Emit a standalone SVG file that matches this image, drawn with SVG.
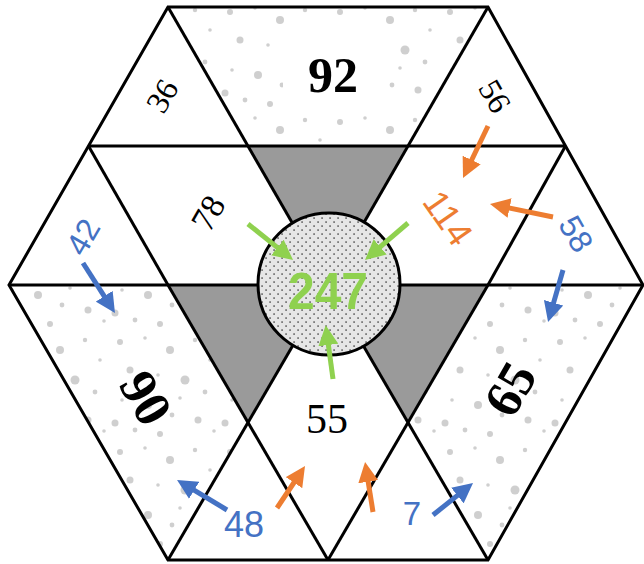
<svg xmlns="http://www.w3.org/2000/svg" width="644" height="564" viewBox="0 0 644 564">
<defs>
<style>
.grid{stroke:#000;stroke-width:3;fill:none;stroke-linejoin:miter;stroke-linecap:butt}
.speck{fill:url(#speck)}
.dark{fill:#9a9a9a}
.blk{font-family:"Liberation Serif","DejaVu Serif",serif;fill:#000}
.hand{font-family:"Liberation Sans","DejaVu Sans",sans-serif}
.arr{stroke-width:5;fill:none}
.g{stroke:#8fd14f}
.o{stroke:#ed7d31}
.b{stroke:#4472c4}
</style>
<pattern id="speck" width="110" height="110" patternUnits="userSpaceOnUse">
<rect width="110" height="110" fill="#fff"/>
<g fill="#cfcfcf">
<circle cx="10" cy="12" r="3"/><circle cx="35" cy="8" r="1.8"/><circle cx="60" cy="20" r="4"/>
<circle cx="85" cy="10" r="2.2"/><circle cx="100" cy="30" r="1.8"/><circle cx="20" cy="40" r="3.5"/>
<circle cx="48" cy="45" r="1.8"/><circle cx="75" cy="50" r="4.5"/><circle cx="95" cy="62" r="2.4"/>
<circle cx="12" cy="70" r="1.8"/><circle cx="38" cy="75" r="4"/><circle cx="62" cy="85" r="2.4"/>
<circle cx="88" cy="90" r="3.5"/><circle cx="25" cy="100" r="2.4"/><circle cx="104" cy="101" r="1.8"/>
<circle cx="50" cy="104" r="3"/><circle cx="70" cy="68" r="1.8"/><circle cx="5" cy="93" r="3.5"/>
</g>
</pattern>
<pattern id="stip" width="8" height="8" patternUnits="userSpaceOnUse">
<rect width="8" height="8" fill="#e6e6e6"/>
<rect x="1.2" y="1.2" width="1.8" height="1.8" fill="#7d7d7d"/>
<rect x="5.2" y="5.2" width="1.8" height="1.8" fill="#7d7d7d"/>
</pattern>
<marker id="mg" viewBox="0 0 4 4" refX="1" refY="2" markerWidth="4" markerHeight="4" orient="auto"><path d="M0,0 L4,2 L0,4 z" fill="#8fd14f"/></marker>
<marker id="mo" viewBox="0 0 4 4" refX="1" refY="2" markerWidth="4" markerHeight="4" orient="auto"><path d="M0,0 L4,2 L0,4 z" fill="#ed7d31"/></marker>
<marker id="mb" viewBox="0 0 4 4" refX="1" refY="2" markerWidth="4" markerHeight="4" orient="auto"><path d="M0,0 L4,2 L0,4 z" fill="#4472c4"/></marker>
</defs>
<rect width="644" height="564" fill="#fff"/>
<g id="nodes">
<g id="r36"><polygon points="168,7 88.5,146 248,146" fill="#fff"/>
<text class="blk" font-size="32" text-anchor="middle" dominant-baseline="central" transform="translate(162,96) rotate(-60)">36</text></g>
<g id="r92"><polygon class="speck" points="168,7 488,7 408,146 248,146"/>
<rect x="283" y="28" width="100" height="82" fill="#fff"/>
<text class="blk" font-size="50" font-weight="bold" text-anchor="middle" x="333" y="92">92</text></g>
<g id="r56"><polygon points="488,7 408,146 565.5,146" fill="#fff"/>
<text class="blk" font-size="32" text-anchor="middle" dominant-baseline="central" transform="translate(495,96) rotate(60)">56</text></g>
<g id="r42"><polygon points="88.5,146 168,285 9,285" fill="#fff"/>
<text class="hand" fill="#4472c4" font-size="32" text-anchor="middle" dominant-baseline="central" transform="translate(83,237) rotate(-60)">42</text></g>
<g id="r78"><polygon points="88.5,146 248,146 328,285 168,285" fill="#fff"/>
<text class="blk" font-size="34" text-anchor="middle" dominant-baseline="central" transform="translate(208,213) rotate(-60)">78</text></g>
<g id="gtop"><polygon class="dark" points="248,146 408,146 328,285"/></g>
<g id="r114"><polygon points="408,146 565.5,146 488,285 328,285" fill="#fff"/>
<text class="hand" fill="#ed7d31" font-size="36" text-anchor="middle" dominant-baseline="central" transform="translate(448,218) rotate(55)">114</text></g>
<g id="r58"><polygon points="565.5,146 643,285 488,285" fill="#fff"/>
<text class="hand" fill="#4472c4" font-size="32" text-anchor="middle" dominant-baseline="central" transform="translate(576,234) rotate(60)">58</text></g>
<g id="r90"><polygon class="speck" points="9,285 168,285 248,422.5 168,560"/>
<text class="blk" font-size="52" font-weight="bold" text-anchor="middle" dominant-baseline="central" transform="translate(146,398) rotate(60)">90</text></g>
<g id="gleft"><polygon class="dark" points="168,285 328,285 248,422.5"/></g>
<g id="gright"><polygon class="dark" points="328,285 488,285 408,422.5"/></g>
<g id="r55"><polygon points="248,422.5 328,285 408,422.5 328,560" fill="#fff"/>
<text class="blk" font-size="42" text-anchor="middle" x="327" y="433">55</text></g>
<g id="r65"><polygon class="speck" points="488,285 643,285 488,560 408,422.5"/>
<text class="blk" font-size="52" font-weight="bold" text-anchor="middle" dominant-baseline="central" transform="translate(510,389) rotate(-60)">65</text></g>
<g id="rb1"><polygon points="168,560 248,422.5 328,560" fill="#fff"/>
<text class="hand" fill="#4472c4" font-size="36" text-anchor="middle" x="244" y="537">48</text></g>
<g id="rb2"><polygon points="328,560 408,422.5 488,560" fill="#fff"/>
<text class="hand" fill="#4472c4" font-size="33" text-anchor="middle" x="412" y="525">7</text></g>
</g>
<g id="grid" class="grid">
<polygon points="168,7 488,7 643,285 488,560 168,560 9,285"/>
<line x1="88.5" y1="146" x2="565.5" y2="146"/>
<line x1="9" y1="285" x2="643" y2="285"/>
<line x1="168" y1="7" x2="328" y2="285"/>
<line x1="488" y1="7" x2="328" y2="285"/>
<line x1="88.5" y1="146" x2="168" y2="285"/>
<line x1="565.5" y1="146" x2="488" y2="285"/>
<line x1="168" y1="285" x2="328" y2="560"/>
<line x1="328" y1="285" x2="168" y2="560"/>
<line x1="328" y1="285" x2="488" y2="560"/>
<line x1="488" y1="285" x2="328" y2="560"/>
</g>
<g id="center">
<circle cx="329" cy="284" r="71" fill="url(#stip)" stroke="#000" stroke-width="3"/>
<text class="hand" fill="#8fd14f" font-size="52" font-weight="bold" text-anchor="middle" x="328" y="309" textLength="80" lengthAdjust="spacingAndGlyphs">247</text>
</g>
<g id="connectors">
<line class="arr g" x1="248" y1="224" x2="281.3" y2="250.6" marker-end="url(#mg)"/>
<line class="arr g" x1="408" y1="223" x2="376.4" y2="250.2" marker-end="url(#mg)"/>
<line class="arr g" x1="333" y1="379" x2="327.7" y2="340" marker-end="url(#mg)"/>
<line class="arr o" x1="488" y1="126" x2="469.5" y2="164.5" marker-end="url(#mo)"/>
<line class="arr o" x1="553" y1="217" x2="504.7" y2="207" marker-end="url(#mo)"/>
<line class="arr b" x1="83" y1="263" x2="106.9" y2="300.4" marker-end="url(#mb)"/>
<line class="arr b" x1="563" y1="270" x2="552.2" y2="307.6" marker-end="url(#mb)"/>
<line class="arr b" x1="227" y1="510" x2="189.9" y2="487.7" marker-end="url(#mb)"/>
<line class="arr o" x1="277" y1="508" x2="296.7" y2="478.5" marker-end="url(#mo)"/>
<line class="arr o" x1="373" y1="512" x2="367.4" y2="476.8" marker-end="url(#mo)"/>
<line class="arr b" x1="433" y1="515" x2="461.3" y2="492.4" marker-end="url(#mb)"/>
</g>
</svg>
